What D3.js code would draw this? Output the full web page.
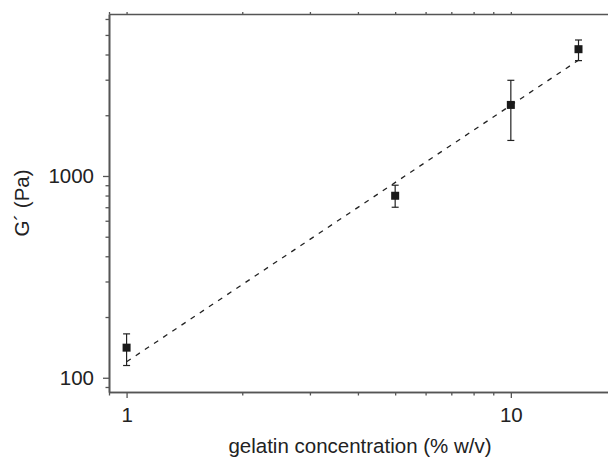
<!DOCTYPE html>
<html>
<head>
<meta charset="utf-8">
<script src="https://cdn.jsdelivr.net/npm/d3@7"></script>
<style>
    body { margin: 0; background: #fff; }
    svg { display: block; }
</style>
</head>
<body>
<div id="chart"></div>
<script>
// values
const concentration = [1, 5, 10, 15];
const g_prime = [141, 798, 2250, 4250];
const err_low = [115, 700, 1500, 3730];
const err_high = [165, 900, 2980, 4720];

// dashed power-law fit, two end points
const fit_conc = [1, 15];
const fit_g = [120, 3750];

const x_major = [1, 10];
const y_major = [100, 1000];

const width = 608;
const height = 458;
const margins = {top: 14, right: 0, bottom: 66, left: 109};
const font = "'Liberation Sans', Arial, sans-serif";
const axis_color = "#555";

var svg = d3.select("#chart")
    .append("svg")
    .attr("width", width)
    .attr("height", height);

var x_scale = d3.scaleLog()
    .domain([0.9, 17.9])
    .range([margins.left, width - margins.right]);

var y_scale = d3.scaleLog()
    .domain([85, 6350])
    .range([height - margins.bottom, margins.top]);

var x_minor = x_scale.ticks().filter(function (v) { return x_major.indexOf(v) < 0; });
var y_minor = y_scale.ticks().filter(function (v) { return y_major.indexOf(v) < 0; });

function style_axis(g) {
    g.select(".domain").attr("stroke", axis_color).attr("stroke-width", 1.6);
    g.selectAll(".tick line").attr("stroke", axis_color).attr("stroke-width", 1.3);
    g.selectAll(".tick text")
        .attr("fill", "#222")
        .attr("font-family", font)
        .attr("font-size", "20.5px");
}

var bottom_y = height - margins.bottom;

// bottom axis
svg.append("g")
    .attr("transform", "translate(0," + bottom_y + ")")
    .call(d3.axisBottom(x_scale).tickValues(x_minor).tickSize(3.5).tickSizeOuter(0).tickFormat(""))
    .call(style_axis);
svg.append("g")
    .attr("transform", "translate(0," + bottom_y + ")")
    .call(d3.axisBottom(x_scale).tickValues(x_major).tickSize(6).tickPadding(9).tickSizeOuter(0)
        .tickFormat(d3.format("d")))
    .call(style_axis);

// top axis, ticks only
svg.append("g")
    .attr("transform", "translate(0," + margins.top + ")")
    .call(d3.axisTop(x_scale).tickValues(x_minor.concat(x_major)).tickSize(2).tickSizeOuter(0).tickFormat(""))
    .call(style_axis);

// left axis
svg.append("g")
    .attr("transform", "translate(" + margins.left + ",0)")
    .call(d3.axisLeft(y_scale).tickValues(y_minor).tickSize(3.5).tickSizeOuter(0).tickFormat(""))
    .call(style_axis);
svg.append("g")
    .attr("transform", "translate(" + margins.left + ",0)")
    .call(d3.axisLeft(y_scale).tickValues(y_major).tickSize(6).tickPadding(9).tickSizeOuter(0)
        .tickFormat(d3.format("d")))
    .call(style_axis);

// fit line
var fit_data = fit_conc.map(function (c, i) { return {x: c, y: fit_g[i]}; });
svg.append("path")
    .datum(fit_data)
    .attr("fill", "none")
    .attr("stroke", "#222")
    .attr("stroke-width", 1.3)
    .attr("stroke-dasharray", "5,6")
    .attr("d", d3.line()
        .x(function (d) { return x_scale(d.x); })
        .y(function (d) { return y_scale(d.y); }));

var points = concentration.map(function (c, i) {
    return {x: c, y: g_prime[i], lo: err_low[i], hi: err_high[i]};
});

// error bars
var cap = 3.5;
var err = svg.append("g")
    .attr("stroke", "#222")
    .attr("stroke-width", 1.2);
err.selectAll(".stem")
    .data(points)
    .enter()
    .append("line")
    .attr("x1", function (d) { return x_scale(d.x); })
    .attr("x2", function (d) { return x_scale(d.x); })
    .attr("y1", function (d) { return y_scale(d.lo); })
    .attr("y2", function (d) { return y_scale(d.hi); });
err.selectAll(".cap_hi")
    .data(points)
    .enter()
    .append("line")
    .attr("x1", function (d) { return x_scale(d.x) - cap; })
    .attr("x2", function (d) { return x_scale(d.x) + cap; })
    .attr("y1", function (d) { return y_scale(d.hi); })
    .attr("y2", function (d) { return y_scale(d.hi); });
err.selectAll(".cap_lo")
    .data(points)
    .enter()
    .append("line")
    .attr("x1", function (d) { return x_scale(d.x) - cap; })
    .attr("x2", function (d) { return x_scale(d.x) + cap; })
    .attr("y1", function (d) { return y_scale(d.lo); })
    .attr("y2", function (d) { return y_scale(d.lo); });

// square markers
var sq = 8;
svg.selectAll(".marker")
    .data(points)
    .enter()
    .append("rect")
    .attr("x", function (d) { return x_scale(d.x) - sq / 2; })
    .attr("y", function (d) { return y_scale(d.y) - sq / 2; })
    .attr("width", sq)
    .attr("height", sq)
    .attr("fill", "#1a1a1a");

// axis titles
svg.append("text")
    .attr("x", 360)
    .attr("y", 453)
    .attr("text-anchor", "middle")
    .attr("font-family", font)
    .attr("font-size", "20.5px")
    .attr("fill", "#222")
    .text("gelatin concentration (% w/v)");

svg.append("text")
    .attr("transform", "translate(29,203) rotate(-90)")
    .attr("text-anchor", "middle")
    .attr("font-family", font)
    .attr("font-size", "20.5px")
    .attr("fill", "#222")
    .text("G´ (Pa)");
</script>
</body>
</html>
